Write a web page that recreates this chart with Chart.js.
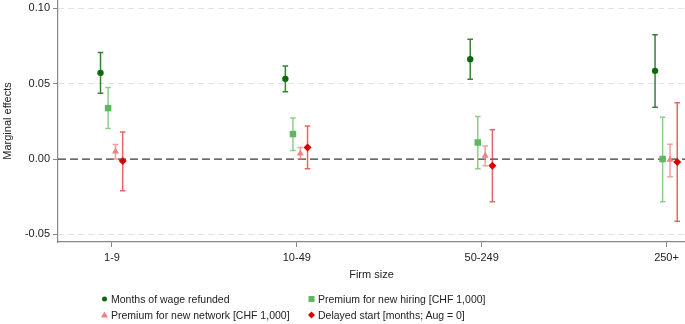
<!DOCTYPE html>
<html>
<head>
<meta charset="utf-8">
<script src="https://cdn.jsdelivr.net/npm/chart.js@4.4.1/dist/chart.umd.min.js"></script>
<style>
  html, body { margin: 0; padding: 0; background: #fff; }
  #wrap { position: relative; width: 685px; height: 324px; font-family: "Liberation Sans", Arial, sans-serif; }
  #c { position: absolute; left: 0; top: 0; }
  .lg { position: absolute; font-size: 10.5px; color: #222; white-space: nowrap; line-height: 12px; }
  .lg svg { position: absolute; left: -11px; top: 1px; }
</style>
</head>
<body>
<div id="wrap">
  <canvas id="c" width="685" height="324"></canvas>
  <div class="lg" style="left:111px; top:293px;"><svg width="9" height="10"><circle cx="4.5" cy="5" r="2.5" fill="#0b6b0b"/></svg>Months of wage refunded</div>
  <div class="lg" style="left:318px; top:293px;"><svg width="9" height="10"><rect x="1.5" y="2" width="6" height="6" fill="#5fb85f"/></svg>Premium for new hiring [CHF 1,000]</div>
  <div class="lg" style="left:111px; top:309px;"><svg width="9" height="10"><polygon points="4.5,1.5 8,7.5 1,7.5" fill="#f28080"/></svg>Premium for new network [CHF 1,000]</div>
  <div class="lg" style="left:318px; top:309px;"><svg width="9" height="10"><polygon points="4.5,1.5 8,5 4.5,8.5 1,5" fill="#d90000"/></svg>Delayed start [months; Aug = 0]</div>
</div>
<script>
// ---- data ----
const categories = ['1-9', '10-49', '50-249', '250+'];
const yTicks = [-0.05, 0.00, 0.05, 0.10];

const seriesNames = [
  'Months of wage refunded',
  'Premium for new hiring [CHF 1,000]',
  'Premium for new network [CHF 1,000]',
  'Delayed start [months; Aug = 0]'
];

const monthsWage     = [0.0572, 0.0532, 0.0662, 0.0585];
const monthsWageLo   = [0.0437, 0.0446, 0.0530, 0.0344];
const monthsWageHi   = [0.0706, 0.0618, 0.0795, 0.0825];

const premiumHiring   = [0.0338, 0.0166, 0.0110, 0.0000];
const premiumHiringLo = [0.0203, 0.0057, -0.0064, -0.0283];
const premiumHiringHi = [0.0474, 0.0272, 0.0282, 0.0278];

const premiumNetwork   = [0.0050, 0.0037, 0.0022, -0.0005];
const premiumNetworkLo = [0.0000, 0.0002, -0.0044, -0.0117];
const premiumNetworkHi = [0.0097, 0.0077, 0.0086, 0.0099];

const delayedStart   = [-0.0013, 0.0077, -0.0044, -0.0020];
const delayedStartLo = [-0.0210, -0.0064, -0.0283, -0.0413];
const delayedStartHi = [0.0179, 0.0219, 0.0194, 0.0373];

// ---- layout / styling ----
const X_MIN = 0.708, X_MAX = 4.10;
const Y_MIN = -0.055, Y_MAX = 0.1055;
const offsets = [-0.062, -0.021, 0.019, 0.058];
const styles = [
  { point: '#0b6b0b', bar: 'rgba(20,108,20,0.85)', shape: 'circle', r: 3.2 },
  { point: '#5fb85f', bar: 'rgba(105,188,105,0.75)', shape: 'rect', r: 4.6 },
  { point: '#f28080', bar: 'rgba(240,125,125,0.75)', shape: 'triangle', r: 4 },
  { point: '#d90000', bar: 'rgba(218,45,45,0.72)', shape: 'rectRot', r: 4 }
];
const seriesVals = [monthsWage, premiumHiring, premiumNetwork, delayedStart];
const seriesLo = [monthsWageLo, premiumHiringLo, premiumNetworkLo, delayedStartLo];
const seriesHi = [monthsWageHi, premiumHiringHi, premiumNetworkHi, delayedStartHi];

const datasets = seriesVals.map((vals, s) => ({
  type: 'scatter',
  label: seriesNames[s],
  order: 0,
  data: vals.map((v, i) => ({ x: i + 1 + offsets[s], y: v, lo: seriesLo[s][i], hi: seriesHi[s][i] })),
  pointStyle: styles[s].shape,
  pointRadius: styles[s].r,
  pointBackgroundColor: styles[s].point,
  pointBorderColor: styles[s].point,
  pointBorderWidth: 0,
  errColor: styles[s].bar
}));

datasets.push({
  type: 'line',
  label: 'zero',
  order: 1,
  data: [{ x: X_MIN, y: 0 }, { x: X_MAX, y: 0 }],
  borderColor: '#3a3a3a',
  borderWidth: 1.3,
  borderDash: [8, 4],
  pointRadius: 0
});

const errorBars = {
  id: 'errorBars',
  beforeDatasetDraw(chart, args) {
    const ds = chart.data.datasets[args.index];
    if (!ds.errColor) return;
    const xs = chart.scales.x, ys = chart.scales.y, ctx = chart.ctx;
    ctx.save();
    ctx.strokeStyle = ds.errColor;
    ctx.lineWidth = 1.5;
    ds.data.forEach(p => {
      const px = xs.getPixelForValue(p.x);
      const y1 = ys.getPixelForValue(p.lo);
      const y2 = ys.getPixelForValue(p.hi);
      ctx.beginPath();
      ctx.moveTo(px, y1); ctx.lineTo(px, y2);
      ctx.moveTo(px - 2.8, y1); ctx.lineTo(px + 2.8, y1);
      ctx.moveTo(px - 2.8, y2); ctx.lineTo(px + 2.8, y2);
      ctx.stroke();
    });
    ctx.restore();
  }
};

const tickFont = { family: '"Liberation Sans", Arial, sans-serif', size: 11 };

new Chart(document.getElementById('c'), {
  type: 'scatter',
  data: { datasets },
  plugins: [errorBars],
  options: {
    responsive: false,
    animation: false,
    layout: { autoPadding: false, padding: { left: 0, right: 0, top: 0, bottom: 38 } },
    plugins: { legend: { display: false }, tooltip: { enabled: false } },
    scales: {
      x: {
        type: 'linear',
        min: X_MIN, max: X_MAX,
        afterBuildTicks: s => { s.ticks = categories.map((c, i) => ({ value: i + 1 })); },
        afterFit: s => { s.height = 44; s.paddingLeft = 0; s.paddingRight = 0; },
        ticks: {
          callback: v => categories[Math.round(v) - 1],
          font: tickFont, color: '#222', padding: 4, maxRotation: 0, autoSkip: false
        },
        grid: { drawOnChartArea: false, drawTicks: true, tickLength: 5, color: '#888', tickColor: '#888' },
        border: { display: true, color: '#888', width: 1.2 },
        title: { display: true, text: 'Firm size', font: tickFont, color: '#222', padding: { top: 0, bottom: 4 } }
      },
      y: {
        type: 'linear',
        min: Y_MIN, max: Y_MAX,
        afterBuildTicks: s => { s.ticks = yTicks.map(v => ({ value: v })); },
        afterFit: s => { s.width = 58; s.paddingTop = 0; s.paddingBottom = 0; },
        ticks: {
          callback: v => v.toFixed(2),
          font: tickFont, color: '#222', padding: 3
        },
        grid: {
          drawTicks: true, tickLength: 5,
          color: c => (c.tick && Math.abs(c.tick.value) < 1e-9) ? 'rgba(0,0,0,0)' : '#e2e2e2',
          tickColor: '#888', lineWidth: 1, tickWidth: 1, tickBorderDash: []
        },
        border: { display: true, color: '#888', width: 1.2, dash: [6, 4] },
        title: { display: true, text: 'Marginal effects', font: { family: tickFont.family, size: 11 }, color: '#222', padding: { top: 1, bottom: 0 } }
      }
    }
  }
});
</script>
</body>
</html>
